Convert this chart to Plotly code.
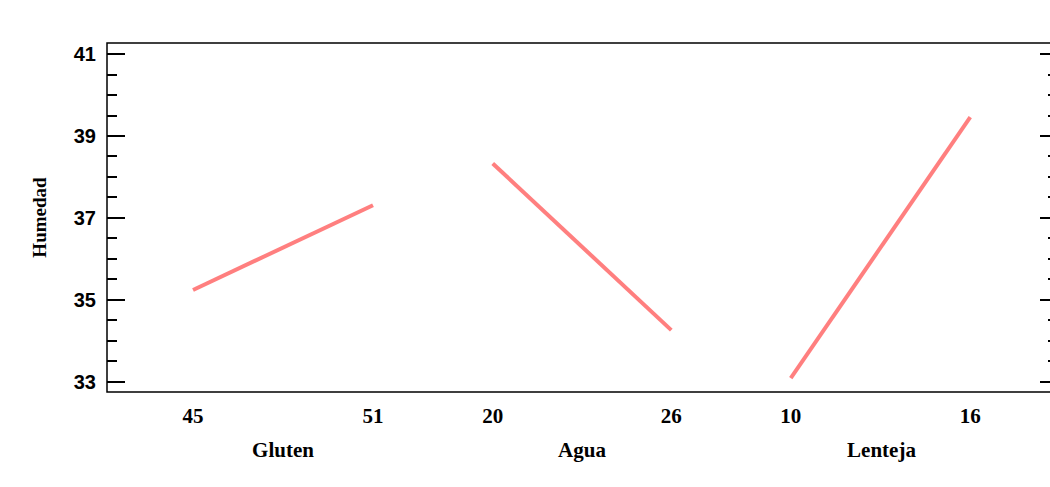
import plotly.graph_objects as go

# Data
factors = ["Gluten", "Agua", "Lenteja"]
gluten_levels = [45, 51]
gluten_humedad = [35.24, 37.31]
agua_levels = [20, 26]
agua_humedad = [38.33, 34.26]
lenteja_levels = [10, 16]
lenteja_humedad = [33.09, 39.46]
y_ticks = [33, 35, 37, 39, 41]

levels = [gluten_levels, agua_levels, lenteja_levels]
values = [gluten_humedad, agua_humedad, lenteja_humedad]

line_color = "#FF7F7F"
serif = "Liberation Serif"
sans = "Liberation Sans"

fig = go.Figure()
axis_names = ["x", "x2", "x3"]
for i in range(3):
    fig.add_trace(go.Scatter(
        x=levels[i], y=values[i], mode="lines",
        line=dict(color=line_color, width=4),
        xaxis=axis_names[i], yaxis="y", showlegend=False,
        hoverinfo="x+y"))

# invisible trace to activate right y-axis
fig.add_trace(go.Scatter(x=[lenteja_levels[0]], y=[y_ticks[0]], xaxis="x3", yaxis="y2",
                         mode="markers", marker=dict(opacity=0), showlegend=False,
                         hoverinfo="skip"))

domains = [[0.0, 0.37014], [0.37014, 0.62881], [0.62881, 1.0]]
ranges = [[42.133, 53.867], [18.867, 27.133], [7.133, 18.933]]

xcommon = dict(showgrid=False, zeroline=False, showline=False,
               ticks="outside", ticklen=5, tickcolor="rgba(0,0,0,0)",
               tickfont=dict(family=serif, size=21, color="black", weight="bold"),
               title_font=dict(family=serif, size=21, color="black", weight="bold"),
               title_standoff=15, fixedrange=True)

layout_axes = {}
for i, name in enumerate(["xaxis", "xaxis2", "xaxis3"]):
    layout_axes[name] = dict(domain=domains[i], range=ranges[i], tickvals=levels[i],
                             title_text=factors[i], anchor="y", **xcommon)

ycommon = dict(range=[32.75, 41.27], tickvals=y_ticks, showgrid=False, zeroline=False,
               showline=False, ticks="inside", ticklen=18, tickwidth=1.5, tickcolor="black",
               minor=dict(dtick=0.5, ticks="inside", ticklen=10, tickwidth=1.5, tickcolor="black"),
               fixedrange=True)

fig.update_layout(
    width=1060, height=487,
    margin=dict(l=107, r=2, t=43, b=95),
    paper_bgcolor="white", plot_bgcolor="white",
    yaxis=dict(anchor="x",
               tickfont=dict(family=sans, size=20, color="black", weight="bold"),
               ticklabelstandoff=10,
               title=dict(text="Humedad", standoff=22,
                          font=dict(family=serif, size=19, color="black", weight="bold")),
               **ycommon),
    yaxis2=dict(anchor="x3", overlaying="y", side="right", showticklabels=False, **ycommon),
    **layout_axes,
)

fig.add_shape(type="rect", xref="paper", yref="paper", x0=0, x1=1, y0=0, y1=1,
              line=dict(color="black", width=1.5), fillcolor="rgba(0,0,0,0)", layer="above")

fig.write_html("out.html",
               config={"displayModeBar": False},
               post_script=("document.body.style.margin='0';"
                            "document.documentElement.style.overflow='hidden';"
                            "document.body.style.overflow='hidden';"))
